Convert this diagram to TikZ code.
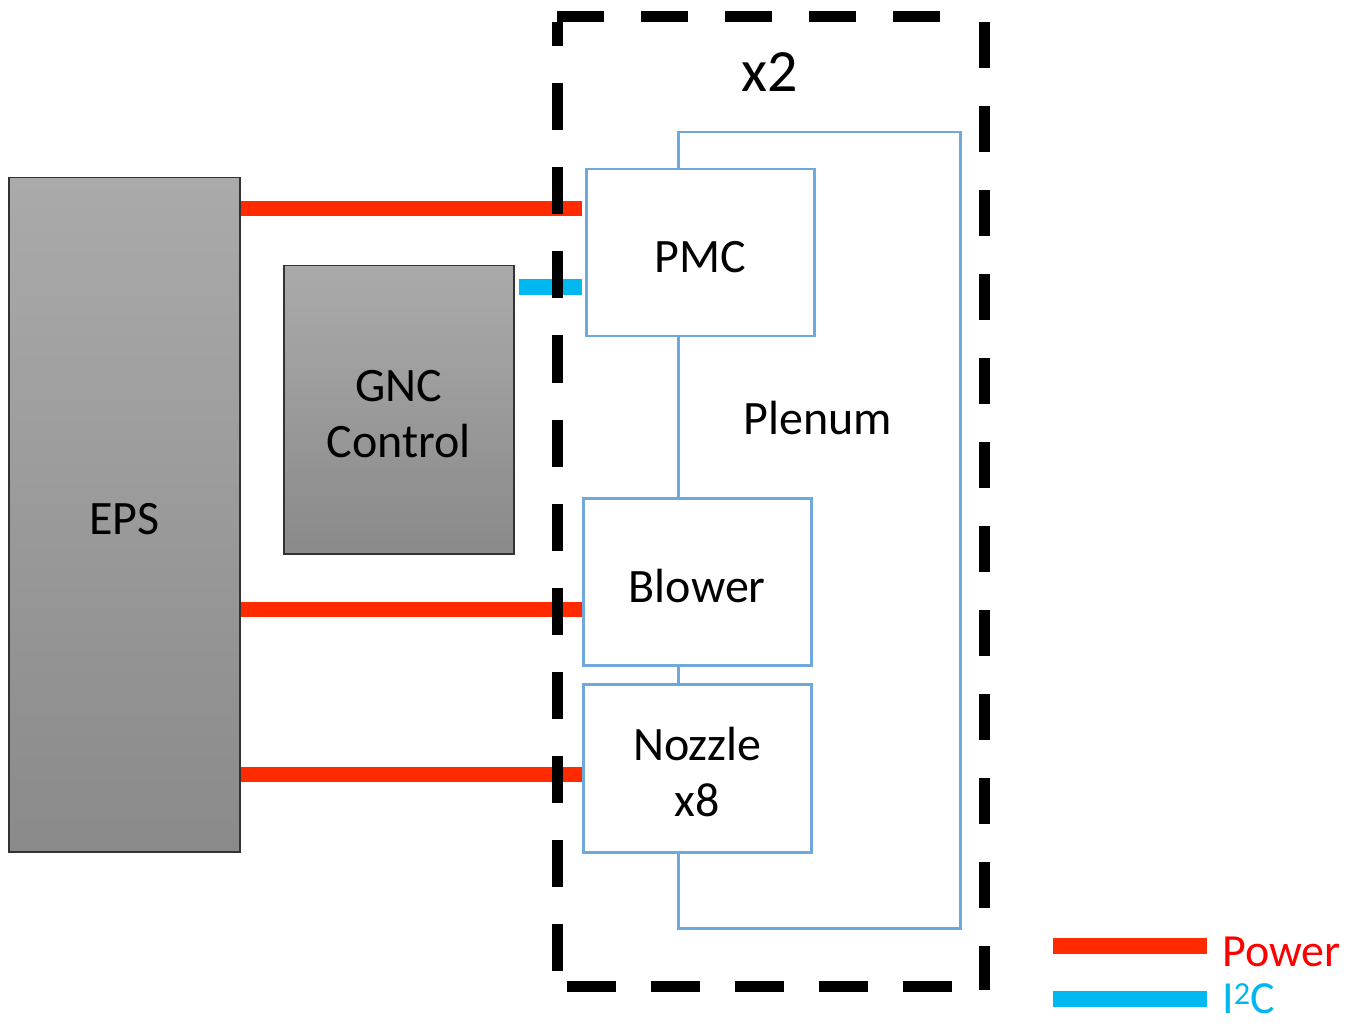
\documentclass[tikz,border=0pt]{standalone}
\usepackage{fontspec}
\setmainfont{Carlito}
\definecolor{pwr}{HTML}{FF2A00}
\definecolor{pwrtxt}{HTML}{FF0000}
\definecolor{ic}{HTML}{00B8F0}
\definecolor{bluebd}{HTML}{6EA8DC}
\definecolor{gtop}{HTML}{AAAAAA}
\definecolor{gbot}{HTML}{8A8A8A}
\begin{document}
\begin{tikzpicture}[x=1pt,y=-1pt,
  graybox/.style={draw=black!80,line width=1.5pt,top color=gtop,bottom color=gbot,anchor=north west,inner sep=0pt},
  bluebox/.style={draw=bluebd,line width=2.5pt,fill=white,anchor=north west,inner sep=0pt},
  lbl/.style={font=\fontsize{48}{56}\selectfont,inner sep=0pt,align=center},
  power/.style={draw=pwr,line width=15pt},
  iic/.style={draw=ic,line width=16pt},
  grp/.style={draw=black,line width=11pt}]
\useasboundingbox (0,0) rectangle (1355,1024);
% plenum
\node[bluebox,minimum width=282pt,minimum height=796pt] (plenum) at (677,131) {};
\node[lbl] (plenumlbl) at (818,418) {Plenum};
% boxes
\node[graybox,minimum width=231pt,minimum height=674pt] (eps) at (8,177) {};
\node[graybox,minimum width=230pt,minimum height=288pt] (gnc) at (283,265) {};
\node[bluebox,minimum width=228pt,minimum height=167pt] (pmc) at (585,168) {};
\node[bluebox,minimum width=228pt,minimum height=167pt] (blower) at (582,497) {};
\node[bluebox,minimum width=228pt,minimum height=168pt] (nozzle) at (582,683) {};
\node[lbl] (epslbl) at ([yshift=-4pt]eps.center) {EPS};
\node[lbl] (gnclbl) at ([yshift=-4pt]gnc.center) {GNC\\Control};
\node[lbl] (pmclbl) at ([yshift=-4pt]pmc.center) {PMC};
\node[lbl] (blowerlbl) at ([yshift=-4pt]blower.center) {Blower};
\node[lbl] (nozzlelbl) at ([yshift=-4pt]nozzle.center) {Nozzle\\x8};
% connectors
\draw[power] (eps.east |- 0,209) -- ([xshift=-3pt]pmc.west |- 0,209);
\draw[iic] ([xshift=4pt]gnc.east |- 0,287) -- ([xshift=-3pt]pmc.west |- 0,287);
\draw[power] (eps.east |- 0,609) -- (blower.west |- 0,609);
\draw[power] (eps.east |- 0,774) -- (nozzle.west |- 0,774);
% group (dashed) box
\coordinate (gtl) at (557,17);
\coordinate (gtr) at (984,17);
\coordinate (gbl) at (557,986);
\coordinate (gbr) at (984,986);
\draw[grp,dash pattern=on 47pt off 37pt] (gtl) -- ([xshift=-40pt]gtr);
\draw[grp,dash pattern=on 47pt off 37pt,dash phase=23pt] ([yshift=-5.5pt]gtl) -- ([yshift=-20pt]gbl);
\draw[grp,dash pattern=on 46pt off 38pt] ([yshift=-5pt]gtr) -- ([yshift=-4pt]gbr);
\draw[grp,dash pattern=on 49pt off 35pt] ([xshift=10pt]gbl) -- ([xshift=-30pt]gbr);
\node[lbl,font=\fontsize{60}{66}\selectfont] (mult) at (770,72) {x2};
% legend
\coordinate (l1a) at (1053,946);
\coordinate (l1b) at (1207,946);
\coordinate (l2a) at (1053,999);
\coordinate (l2b) at (1207,999);
\draw[power,line width=16pt] (l1a) -- (l1b);
\draw[iic] (l2a) -- (l2b);
\node[anchor=west,inner sep=0pt,text=pwrtxt,font=\fontsize{46}{50}\selectfont] (lpwr) at (1222,952) {Power};
\node[anchor=west,inner sep=0pt,text=ic,font=\fontsize{46}{50}\selectfont] (liic) at (1222,999) {I\textsuperscript{2}C};
\end{tikzpicture}
\end{document}
